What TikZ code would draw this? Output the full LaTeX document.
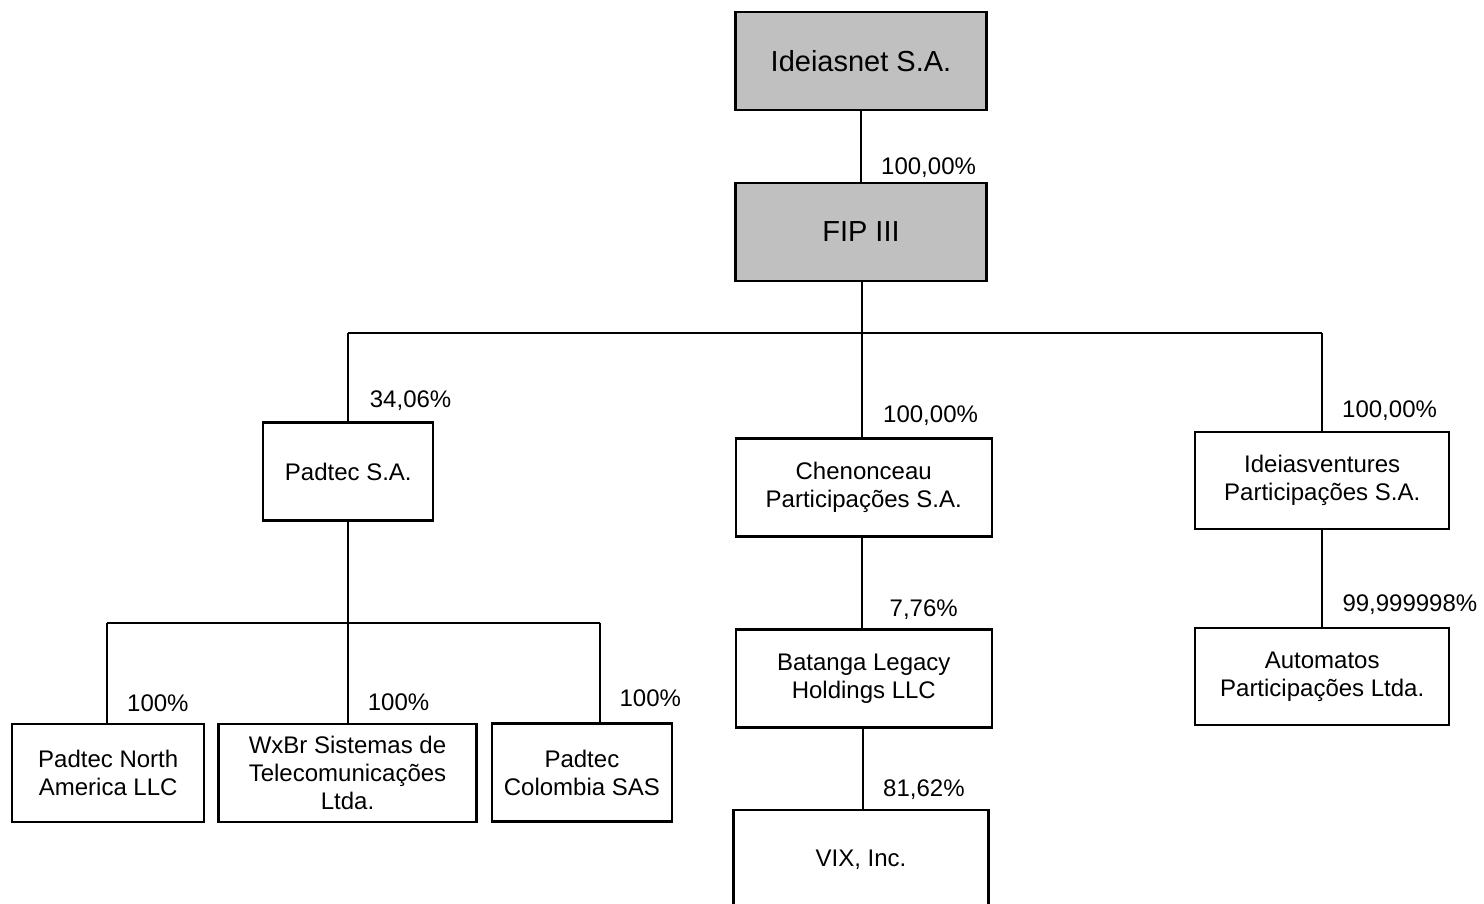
\documentclass[tikz,border=0pt]{standalone}
\usepackage{fontspec}
\setmainfont{Liberation Sans}
\begin{document}
\begin{tikzpicture}[x=1pt,y=-1pt,
  box/.style={draw=black,line width=2.3pt,fill=white,inner sep=0pt,align=center,
    font=\fontsize{24}{28}\selectfont},
  topbox/.style={box,fill=boxgray,font=\fontsize{29}{34}\selectfont},
  pct/.style={anchor=base west,inner sep=0pt,font=\fontsize{24}{28}\selectfont},
  link/.style={line width=1.8pt}]
\definecolor{boxgray}{RGB}{192,192,192}
\useasboundingbox (0,0) rectangle (1484,904);
\clip (0,0) rectangle (1484,904);

% top boxes
\node[topbox,minimum width=251pt,minimum height=98pt] (ideias) at (861,61) {Ideiasnet S.A.};
\node[topbox,minimum width=251pt,minimum height=98pt] (fip) at (861,232) {FIP III};

% second row
\node[box,minimum width=170pt,minimum height=98pt] (padtec) at (348.3,471.5) {Padtec S.A.};
\node[box,minimum width=256pt,minimum height=98pt] (chen) at (863.7,487.5) {Chenonceau\\Participações S.A.};
\node[box,minimum width=254pt,minimum height=97pt] (ideiasv) at (1322.2,480.3) {Ideiasventures\\Participações S.A.};

% third row
\node[box,minimum width=192pt,minimum height=98pt] (na) at (108.2,773.3) {Padtec North\\America LLC};
\node[box,minimum width=258pt,minimum height=98pt] (wx) at (347.5,772.8) {WxBr Sistemas de\\Telecomunicações\\Ltda.};
\node[box,minimum width=180pt,minimum height=98pt] (col) at (581.9,772.5) {Padtec\\Colombia SAS};
\node[box,minimum width=256pt,minimum height=98pt] (batanga) at (863.8,678.5) {Batanga Legacy\\Holdings LLC};
\node[box,minimum width=254pt,minimum height=97pt] (auto) at (1322.2,676.3) {Automatos\\Participações Ltda.};

% bottom
\node[box,minimum width=255pt,minimum height=100pt] (vix) at (861,860) {VIX, Inc.};

% bus coordinates
\coordinate (busL) at (347.7,332.7);
\coordinate (busC) at (861.7,332.7);
\coordinate (busR) at (1321.7,332.7);
\coordinate (bbL) at (106.7,622.7);
\coordinate (bbC) at (347.7,622.7);
\coordinate (bbR) at (600.3,622.7);

% connectors
\draw[link] (ideias.south) -- (fip.south |- ideias.south) -- (fip.north);
\draw[link] (fip.south -| busC) -- (busC);
\draw[link] (busL) -- (busR);
\draw[link] (busL) -- (busL |- padtec.north);
\draw[link] (busC) -- (busC |- chen.north);
\draw[link] (busR) -- (busR |- ideiasv.north);
\draw[link] (padtec.south -| bbC) -- (bbC);
\draw[link] (bbL) -- (bbR);
\draw[link] (bbL) -- (bbL |- na.north);
\draw[link] (bbC) -- (bbC |- wx.north);
\draw[link] (bbR) -- (bbR |- col.north);
\coordinate (cb) at (862,0);
\draw[link] (chen.south -| cb) -- (batanga.north -| cb);
\coordinate (bv) at (863.3,0);
\draw[link] (batanga.south -| bv) -- (vix.north -| bv);
\draw[link] (ideiasv.south -| busR) -- (auto.north -| busR);

% percentages
\node[pct] (p1) at (881,175) {100,00\%};
\node[pct] (p2) at (369.7,407.3) {34,06\%};
\node[pct] (p3) at (883,422.7) {100,00\%};
\node[pct] (p4) at (1342,417.3) {100,00\%};
\node[pct] (p5) at (1342.3,611.7) {99,999998\%};
\node[pct] (p6) at (889.5,616.7) {7,76\%};
\node[pct] (p7) at (883,796.7) {81,62\%};
\node[pct] (p8) at (127,711) {100\%};
\node[pct] (p9) at (367.7,710) {100\%};
\node[pct] (p10) at (619.4,706.7) {100\%};
\end{tikzpicture}
\end{document}
